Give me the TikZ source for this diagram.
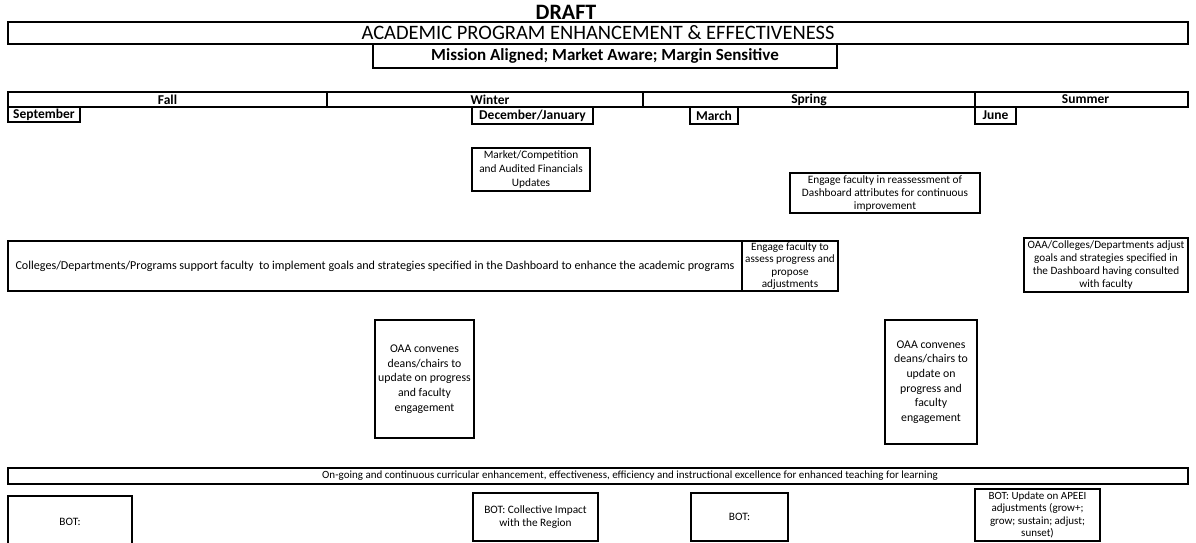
\documentclass[tikz,border=0pt]{standalone}
\usepackage{fontspec}
\setmainfont{Carlito}
\begin{document}
\begin{tikzpicture}[x=1pt,y=-1pt,
  box/.style={draw=black, line width=1.1pt, inner sep=0pt, outer sep=0pt, anchor=north west, align=center},
  heavy/.style={line width=1.5pt},
  small/.style={font=\fontsize{11.3}{13.6}\selectfont},
  lab/.style={font=\bfseries\fontsize{13.5}{15}\selectfont}
]
\useasboundingbox (0,0) rectangle (1196,543);
% title
\node[font=\bfseries\fontsize{22}{24}\selectfont] (draft) at (566,12) {DRAFT};
\node[box, heavy, minimum width=1180pt, minimum height=22pt, font=\fontsize{20.5}{22}\selectfont] (title) at (8,22) {ACADEMIC PROGRAM ENHANCEMENT \& EFFECTIVENESS};
\node[box, minimum width=464pt, minimum height=24pt, font=\bfseries\fontsize{17}{18}\selectfont] (mission) at (373,44) {Mission Aligned; Market Aware; Margin Sensitive};
% seasons
\node[box, heavy, lab, minimum width=319pt, minimum height=15pt] (fall) at (8,92) {Fall};
\node[box, heavy, lab, minimum width=316pt, minimum height=15pt] (winter) at (327,92) {\hspace*{10pt}Winter};
\node[box, heavy, lab, minimum width=332pt, minimum height=15pt] (spring) at (643,92) {Spring};
\node[box, heavy, lab, minimum width=213pt, minimum height=15pt] (summer) at (975,92) {\hspace*{8pt}Summer};
% months
\node[box, lab, minimum width=72pt, minimum height=15pt] (sep) at (8,107) {September};
\node[box, lab, minimum width=121pt, minimum height=17pt] (dec) at (472,107) {December/January};
\node[box, lab, minimum width=48pt, minimum height=17pt] (mar) at (690,107) {March};
\node[box, lab, minimum width=41pt, minimum height=17pt] (jun) at (975,107) {June};
% activities
\node[box, small, minimum width=118pt, minimum height=43pt] (market) at (472,148) {Market/Competition\\and Audited Financials\\Updates};
\node[box, small, minimum width=190pt, minimum height=40pt, font=\fontsize{11.3}{13}\selectfont] (reassess) at (790,173) {Engage faculty in reassessment of\\Dashboard attributes for continuous\\improvement};
\node[box, minimum width=734pt, minimum height=50pt, font=\fontsize{12.1}{14}\selectfont] (colleges) at (8,241) {Colleges/Departments/Programs support faculty\ \ to implement goals and strategies specified in the Dashboard to enhance the academic programs};
\node[box, minimum width=96pt, minimum height=50pt, font=\fontsize{11.2}{12.4}\selectfont] (assess) at (742,241) {Engage faculty to\\assess progress and\\propose\\adjustments};
\node[box, minimum width=164pt, minimum height=54pt, font=\fontsize{11.2}{13.2}\selectfont] (adjust) at (1024,238) {OAA/Colleges/Departments adjust\\goals and strategies specified in\\the Dashboard having consulted\\with faculty};
\node[box, font=\fontsize{11.8}{14.6}\selectfont, minimum width=99pt, minimum height=118pt] (oaa1) at (375,320) {OAA convenes\\deans/chairs to\\update on progress\\and faculty\\engagement};
\node[box, font=\fontsize{11.8}{14.6}\selectfont, minimum width=92pt, minimum height=124pt] (oaa2) at (885,320) {OAA convenes\\deans/chairs to\\update on\\progress and\\faculty\\engagement};
\node[box, heavy, minimum width=1180pt, minimum height=16pt, font=\fontsize{11}{13}\selectfont] (ongoing) at (8,468) {\hspace*{64pt}On-going and continuous curricular enhancement, effectiveness, efficiency and instructional excellence for enhanced teaching for learning};
% BOT
\node[box, small, minimum width=124pt, minimum height=52pt] (bot1) at (8,496) {BOT:};
\node[box, small, minimum width=125pt, minimum height=48pt] (bot2) at (473,493) {BOT: Collective Impact\\with the Region};
\node[box, small, minimum width=97pt, minimum height=48pt] (bot3) at (691,493) {BOT:};
\node[box, minimum width=125pt, minimum height=52pt, font=\fontsize{11}{12.5}\selectfont] (bot4) at (975,489) {BOT: Update on APEEI\\adjustments (grow+;\\grow; sustain; adjust;\\sunset)};
\end{tikzpicture}
\end{document}
